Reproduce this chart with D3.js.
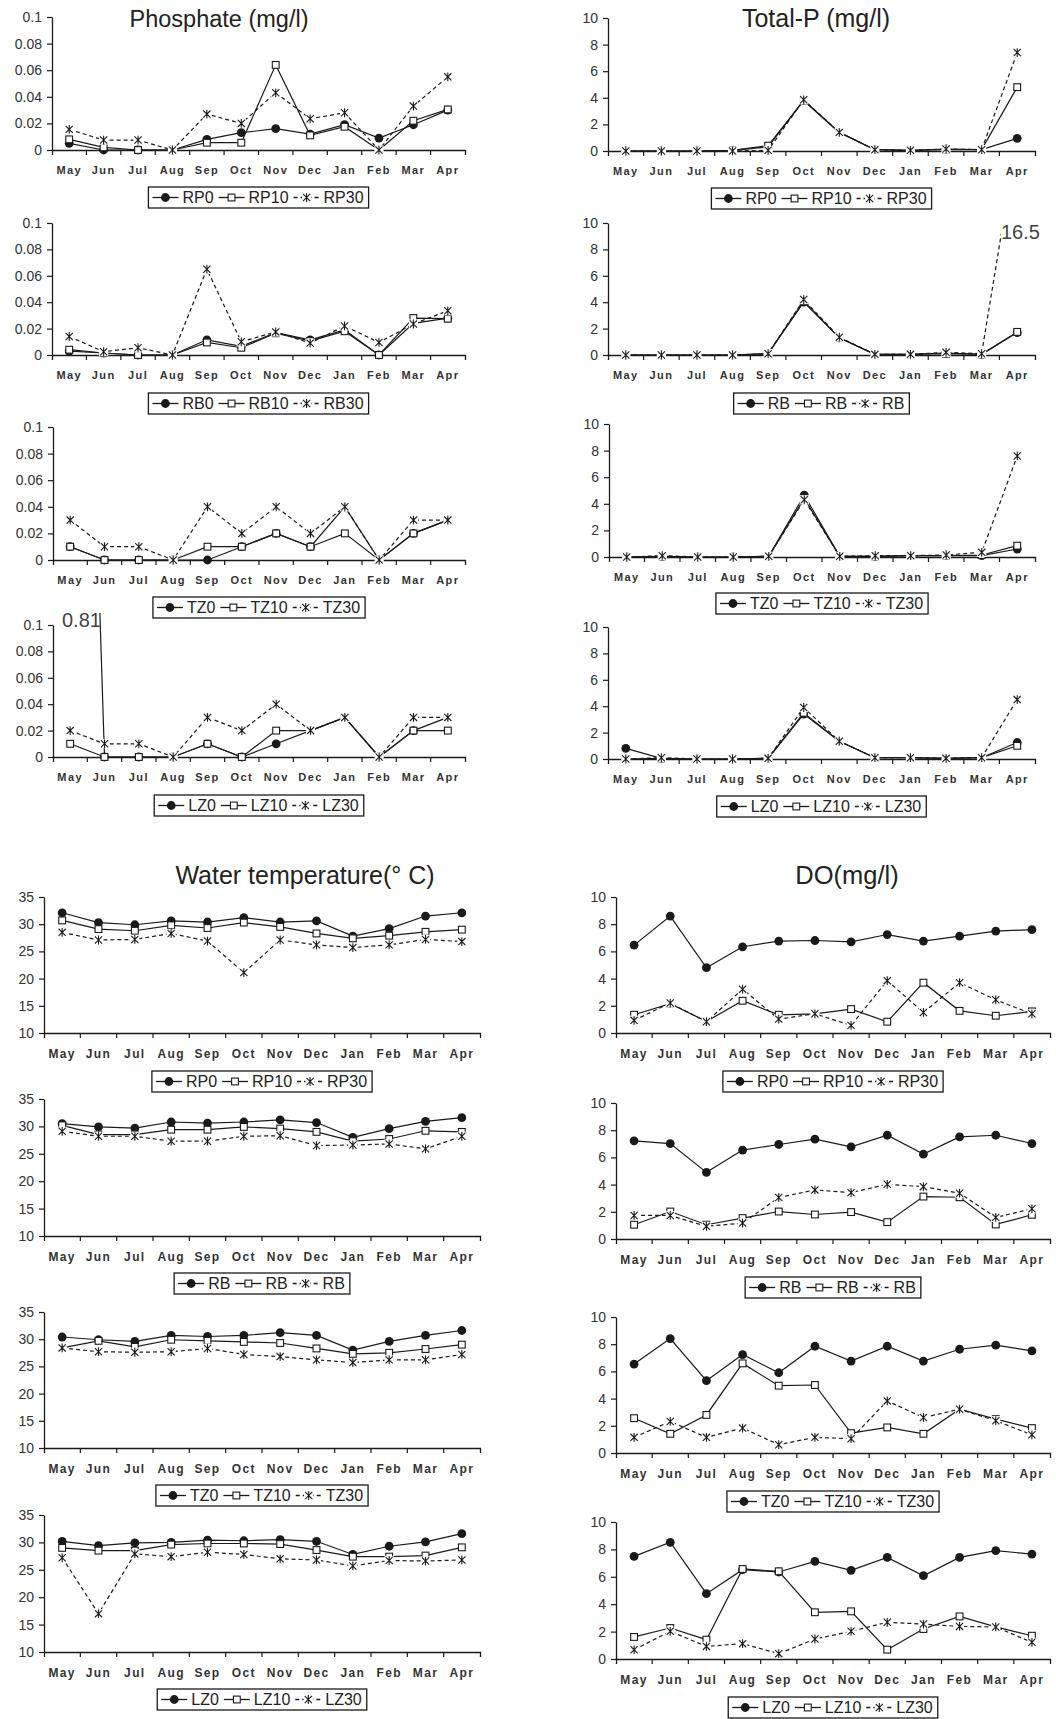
<!DOCTYPE html>
<html>
<head>
<meta charset="utf-8">
<script src="https://cdn.jsdelivr.net/npm/d3@7"></script>
<style>
  body { margin: 0; background: #fff; }
  svg { display: block; font-family: "Liberation Sans", Arial, sans-serif; }
</style>
</head>
<body>
<svg id="chart" width="1056" height="1719"></svg>
<script>
// ---- categories & ticks ----
const months = ["May","Jun","Jul","Aug","Sep","Oct","Nov","Dec","Jan","Feb","Mar","Apr"];
const phosTicks = [0, 0.02, 0.04, 0.06, 0.08, 0.1];
const tpTicks = [0, 2, 4, 6, 8, 10];
const tempTicks = [10, 15, 20, 25, 30, 35];
const doTicks = [0, 2, 4, 6, 8, 10];

// ---- Phosphate (mg/l) ----
const phosRP0  = [0.005, 0, 0, 0, 0.008, 0.013, 0.016, 0.012, 0.019, 0.009, 0.019, 0.030];
const phosRP10 = [0.008, 0.002, 0, 0, 0.0055, 0.0055, 0.064, 0.011, 0.0175, 0, 0.022, 0.0305];
const phosRP30 = [0.0155, 0.0075, 0.0075, 0, 0.027, 0.020, 0.043, 0.0235, 0.028, 0, 0.033, 0.055];
const phosRB0  = [0.003, 0.0015, 0, 0, 0.0115, 0.0065, 0.017, 0.0115, 0.019, 0, 0.024, 0.028];
const phosRB10 = [0.004, 0.0015, 0, 0, 0.0095, 0.0055, 0.0165, 0.0105, 0.018, 0, 0.028, 0.0275];
const phosRB30 = [0.014, 0.0025, 0.0055, 0, 0.065, 0.010, 0.0175, 0.009, 0.022, 0.0095, 0.0235, 0.0335];
const phosTZ0  = [0.01, 0, 0, 0, 0, 0.01, 0.02, 0.01, 0.04, 0, 0.02, 0.03];
const phosTZ10 = [0.01, 0, 0, 0, 0.01, 0.01, 0.02, 0.01, 0.02, 0, 0.02, 0.03];
const phosTZ30 = [0.03, 0.01, 0.01, 0, 0.04, 0.02, 0.04, 0.02, 0.04, 0, 0.03, 0.03];
const phosLZ0  = [0.81, 0, 0, 0, 0.01, 0, 0.01, 0.02, 0.03, 0, 0.02, 0.03];
const phosLZ10 = [0.01, 0, 0, 0, 0.01, 0, 0.02, 0.02, 0.03, 0, 0.02, 0.02];
const phosLZ30 = [0.02, 0.01, 0.01, 0, 0.03, 0.02, 0.04, 0.02, 0.03, 0, 0.03, 0.03];

// ---- Total-P (mg/l) ----
const tpRP0  = [0, 0, 0, 0.05, 0.3, 3.8, 1.4, 0.1, 0.05, 0.15, 0.1, 0.95];
const tpRP10 = [0, 0, 0, 0.05, 0.4, 3.8, 1.4, 0.1, 0.05, 0.1, 0.1, 4.8];
const tpRP30 = [0, 0, 0, 0, 0.05, 3.85, 1.4, 0.1, 0.05, 0.15, 0.1, 7.4];
const tpRB0  = [0, 0, 0, 0, 0.1, 4.0, 1.3, 0.05, 0.05, 0.15, 0.05, 1.7];
const tpRB10 = [0, 0, 0, 0, 0.1, 4.1, 1.3, 0.05, 0.05, 0.1, 0.05, 1.75];
const tpRB30 = [0, 0, 0, 0, 0.1, 4.2, 1.35, 0.05, 0.05, 0.2, 0.1, 16.5];
const tpTZ0  = [0, 0.05, 0, 0, 0.05, 4.65, 0.05, 0.05, 0.1, 0.1, 0.1, 0.6];
const tpTZ10 = [0, 0.05, 0, 0, 0.05, 4.4, 0.05, 0.05, 0.1, 0.1, 0.15, 0.85];
const tpTZ30 = [0, 0.1, 0, 0, 0.05, 4.3, 0.05, 0.1, 0.1, 0.15, 0.35, 7.6];
const tpLZ0  = [0.8, 0.05, 0, 0, 0.05, 3.4, 1.35, 0.1, 0.1, 0.05, 0.1, 1.25];
const tpLZ10 = [0, 0.05, 0, 0, 0.05, 3.5, 1.35, 0.1, 0.1, 0.05, 0.1, 1.0];
const tpLZ30 = [0, 0.1, 0, 0, 0.05, 3.9, 1.35, 0.1, 0.1, 0.05, 0.1, 4.5];

// ---- Water temperature (°C) ----
const wtRP0  = [32.1, 30.3, 29.9, 30.6, 30.4, 31.2, 30.4, 30.6, 27.8, 29.2, 31.5, 32.1];
const wtRP10 = [30.7, 29.1, 28.8, 29.8, 29.3, 30.3, 29.5, 28.3, 27.4, 27.9, 28.6, 29.0];
const wtRP30 = [28.5, 27.1, 27.2, 28.3, 26.9, 21.1, 27.1, 26.2, 25.7, 26.2, 27.2, 26.8];
const wtRB0  = [30.5, 29.9, 29.7, 30.8, 30.6, 30.8, 31.2, 30.7, 28.0, 29.6, 30.9, 31.6];
const wtRB10 = [30.2, 28.5, 28.5, 29.4, 29.4, 29.9, 29.6, 29.0, 27.3, 27.7, 29.2, 29.0];
const wtRB30 = [29.1, 28.2, 28.2, 27.3, 27.3, 28.2, 28.3, 26.5, 26.6, 26.8, 25.9, 28.2];
const wtTZ0  = [30.4, 29.9, 29.6, 30.7, 30.5, 30.7, 31.2, 30.7, 28.0, 29.6, 30.7, 31.6];
const wtTZ10 = [28.4, 29.7, 28.6, 29.9, 29.7, 29.5, 29.3, 28.3, 27.3, 27.5, 28.2, 29.0];
const wtTZ30 = [28.4, 27.7, 27.6, 27.7, 28.3, 27.2, 26.8, 26.2, 25.7, 26.2, 26.2, 27.2];
const wtLZ0  = [30.2, 29.4, 29.9, 30.0, 30.4, 30.3, 30.5, 30.2, 27.8, 29.3, 30.1, 31.6];
const wtLZ10 = [29.0, 28.5, 28.5, 29.6, 29.8, 29.8, 29.7, 28.6, 27.4, 27.4, 27.6, 29.1];
const wtLZ30 = [27.2, 17.0, 27.9, 27.4, 28.2, 27.8, 27.0, 26.8, 25.7, 26.7, 26.6, 26.8];

// ---- DO (mg/l) ----
const doRP0  = [6.46, 8.6, 4.8, 6.34, 6.76, 6.8, 6.7, 7.24, 6.76, 7.12, 7.49, 7.6];
const doRP10 = [1.34, 2.15, 0.85, 2.37, 1.34, 1.41, 1.76, 0.83, 3.7, 1.63, 1.27, 1.59];
const doRP30 = [0.93, 2.2, 0.83, 3.22, 1.02, 1.41, 0.56, 3.85, 1.51, 3.7, 2.44, 1.41];
const doRB0  = [7.22, 7.02, 4.9, 6.54, 6.95, 7.34, 6.78, 7.63, 6.24, 7.51, 7.63, 7.02];
const doRB10 = [1.05, 2.02, 1.05, 1.54, 2.02, 1.8, 1.98, 1.24, 3.12, 3.07, 1.07, 1.78];
const doRB30 = [1.73, 1.73, 0.93, 1.17, 3.05, 3.61, 3.41, 4.02, 3.85, 3.37, 1.59, 2.22];
const doTZ0  = [6.54, 8.41, 5.32, 7.24, 5.9, 7.85, 6.76, 7.85, 6.76, 7.63, 7.93, 7.51];
const doTZ10 = [2.56, 1.41, 2.8, 6.59, 4.95, 5.0, 1.46, 1.88, 1.41, 3.22, 2.49, 1.83];
const doTZ30 = [1.15, 2.32, 1.15, 1.83, 0.61, 1.15, 1.05, 3.83, 2.61, 3.22, 2.37, 1.34];
const doLZ0  = [7.49, 8.52, 4.77, 6.52, 6.35, 7.13, 6.47, 7.42, 6.08, 7.42, 7.91, 7.66];
const doLZ10 = [1.61, 2.26, 1.41, 6.57, 6.4, 3.41, 3.48, 0.68, 2.19, 3.11, 2.34, 1.7];
const doLZ30 = [0.68, 2.02, 0.92, 1.12, 0.39, 1.46, 2.02, 2.68, 2.55, 2.38, 2.34, 1.22];

// ---- legend labels ----
const legRP = ["RP0", "RP10", "RP30"];
const legRB = ["RB0", "RB10", "RB30"];
const legRBplain = ["RB", "RB", "RB"];
const legTZ = ["TZ0", "TZ10", "TZ30"];
const legLZ = ["LZ0", "LZ10", "LZ30"];

// ---- panel layout ----
const styleUpper = {tickFont: 14, monthFont: 11};
const styleLower = {tickFont: 14, monthFont: 12};
const panels = [
  {x0: 52,  x1: 465,  y0: 17,   y1: 150,  leg: 187,  ticks: phosTicks, series: [phosRP0, phosRP10, phosRP30], labels: legRP, st: styleUpper},
  {x0: 52,  x1: 465,  y0: 223,  y1: 355,  leg: 393,  ticks: phosTicks, series: [phosRB0, phosRB10, phosRB30], labels: legRB, st: styleUpper},
  {x0: 53,  x1: 465,  y0: 427,  y1: 560,  leg: 597,  ticks: phosTicks, series: [phosTZ0, phosTZ10, phosTZ30], labels: legTZ, st: styleUpper},
  {x0: 53,  x1: 465,  y0: 625,  y1: 757,  leg: 795,  ticks: phosTicks, series: [phosLZ0, phosLZ10, phosLZ30], labels: legLZ, st: styleUpper,
   over: 12, note: {text: "0.81", x: 62, y: 627}},
  {x0: 608, x1: 1035, y0: 18,   y1: 151,  leg: 188,  ticks: tpTicks, series: [tpRP0, tpRP10, tpRP30], labels: legRP, st: styleUpper},
  {x0: 608, x1: 1035, y0: 223,  y1: 355,  leg: 393,  ticks: tpTicks, series: [tpRB0, tpRB10, tpRB30], labels: legRBplain, st: styleUpper,
   note: {text: "16.5", x: 1001, y: 239, bg: true}},
  {x0: 609, x1: 1035, y0: 424,  y1: 557,  leg: 593,  ticks: tpTicks, series: [tpTZ0, tpTZ10, tpTZ30], labels: legTZ, st: styleUpper},
  {x0: 608, x1: 1035, y0: 627,  y1: 759,  leg: 796,  ticks: tpTicks, series: [tpLZ0, tpLZ10, tpLZ30], labels: legLZ, st: styleUpper},
  {x0: 44,  x1: 480,  y0: 897,  y1: 1033, leg: 1071, ticks: tempTicks, series: [wtRP0, wtRP10, wtRP30], labels: legRP, st: styleLower},
  {x0: 44,  x1: 480,  y0: 1099, y1: 1236, leg: 1273, ticks: tempTicks, series: [wtRB0, wtRB10, wtRB30], labels: legRBplain, st: styleLower},
  {x0: 44,  x1: 480,  y0: 1312, y1: 1448, leg: 1485, ticks: tempTicks, series: [wtTZ0, wtTZ10, wtTZ30], labels: legTZ, st: styleLower},
  {x0: 44,  x1: 480,  y0: 1515, y1: 1652, leg: 1689, ticks: tempTicks, series: [wtLZ0, wtLZ10, wtLZ30], labels: legLZ, st: styleLower},
  {x0: 616, x1: 1050, y0: 897,  y1: 1033, leg: 1071, ticks: doTicks, series: [doRP0, doRP10, doRP30], labels: legRP, st: styleLower},
  {x0: 616, x1: 1050, y0: 1103, y1: 1239, leg: 1277, ticks: doTicks, series: [doRB0, doRB10, doRB30], labels: legRBplain, st: styleLower},
  {x0: 616, x1: 1050, y0: 1317, y1: 1453, leg: 1491, ticks: doTicks, series: [doTZ0, doTZ10, doTZ30], labels: legTZ, st: styleLower},
  {x0: 616, x1: 1050, y0: 1522, y1: 1659, leg: 1697, ticks: doTicks, series: [doLZ0, doLZ10, doLZ30], labels: legLZ, st: styleLower}
];

const titles = [
  {text: "Phosphate (mg/l)", x: 219, y: 27, size: 23.5},
  {text: "Total-P (mg/l)", x: 816, y: 27, size: 25},
  {text: "Water temperature(\u00B0 C)", x: 305, y: 884, size: 25},
  {text: "DO(mg/l)", x: 847, y: 884, size: 25.5}
];

const INK = "#1a1a1a";
const svg = d3.select("#chart");
const defs = svg.append("defs");

// marker glyphs: filled circle, open square, asterisk on a white square ground
function drawMarker(sel, kind, cx, cy) {
  if (kind === 0) {
    sel.append("circle").attr("cx", cx).attr("cy", cy).attr("r", 4.4).attr("fill", INK);
  } else if (kind === 1) {
    sel.append("rect").attr("x", cx - 3.4).attr("y", cy - 3.4).attr("width", 6.8).attr("height", 6.8)
      .attr("fill", "#fff").attr("stroke", INK).attr("stroke-width", 1.1);
  } else {
    const s = 3.6;
    sel.append("rect").attr("x", cx - s - 1).attr("y", cy - s - 1).attr("width", 2 * s + 2).attr("height", 2 * s + 2)
      .attr("fill", "#fff");
    sel.append("path")
      .attr("d", `M${cx - s},${cy - s}L${cx + s},${cy + s}M${cx - s},${cy + s}L${cx + s},${cy - s}M${cx},${cy - s - 0.8}L${cx},${cy + s + 0.8}`)
      .attr("stroke", INK).attr("stroke-width", 1.1).attr("fill", "none");
  }
}

const dashFor = k => (k === 2 ? "4,3" : null);

panels.forEach((p, pi) => {
  const g = svg.append("g");
  const x = d3.scaleBand().domain(months).range([p.x0, p.x1]);
  const y = d3.scaleLinear().domain([p.ticks[0], p.ticks[p.ticks.length - 1]]).range([p.y1, p.y0]);

  // y axis
  const ya = g.append("g").attr("transform", `translate(${p.x0},0)`)
    .call(d3.axisLeft(y).tickValues(p.ticks).tickSizeInner(5).tickSizeOuter(0).tickPadding(5).tickFormat(d => String(d)));
  ya.select(".domain").attr("stroke", INK).attr("stroke-width", 1.3);
  ya.selectAll(".tick line").attr("stroke", INK).attr("stroke-width", 1.2);
  ya.selectAll(".tick text").attr("fill", "#333").attr("font-size", p.st.tickFont)
    .attr("font-family", "'Liberation Sans', Arial, sans-serif");

  // x axis: labels centred on bands, ticks on band boundaries
  const xa = g.append("g").attr("transform", `translate(0,${p.y1})`)
    .call(d3.axisBottom(x).tickSizeInner(0).tickSizeOuter(5).tickPadding(16));
  xa.select(".domain").attr("stroke", INK).attr("stroke-width", 1.3);
  xa.selectAll(".tick text").attr("fill", "#333").attr("font-size", p.st.monthFont).attr("font-weight", "bold")
    .attr("letter-spacing", "1.4px").attr("font-family", "'Liberation Sans', Arial, sans-serif");
  xa.selectAll(".boundary").data(months.slice(1)).join("line").attr("class", "boundary")
    .attr("x1", d => x(d)).attr("x2", d => x(d)).attr("y1", 0).attr("y2", 5)
    .attr("stroke", INK).attr("stroke-width", 1.2);

  // clip; an off-scale value may run a little past the top of the plot
  const over = p.over || 1;
  const clipId = "clip" + pi;
  defs.append("clipPath").attr("id", clipId).append("rect")
    .attr("x", p.x0 - 10).attr("y", p.y0 - over).attr("width", p.x1 - p.x0 + 20).attr("height", p.y1 - p.y0 + over + 10);

  const plot = g.append("g").attr("clip-path", `url(#${clipId})`);
  const line = d3.line().x((d, i) => x(months[i]) + x.bandwidth() / 2).y(d => y(d));

  p.series.forEach((vals, k) => {
    plot.append("path").datum(vals).attr("d", line)
      .attr("fill", "none").attr("stroke", INK).attr("stroke-width", 1.2)
      .attr("stroke-dasharray", dashFor(k));
  });
  p.series.forEach((vals, k) => {
    vals.forEach((v, i) => {
      const cy = y(v);
      if (cy < p.y0 - 6) return;
      drawMarker(plot, k, x(months[i]) + x.bandwidth() / 2, cy);
    });
  });

  // legend box, centred under the plot
  const lg = g.append("g");
  const h = 21;
  let pos = 4;
  p.labels.forEach((lab, k) => {
    lg.append("line").attr("x1", pos).attr("x2", pos + 26).attr("y1", 0).attr("y2", 0)
      .attr("stroke", INK).attr("stroke-width", 1.3).attr("stroke-dasharray", dashFor(k));
    drawMarker(lg, k, pos + 13, 0);
    pos += 30;
    const t = lg.append("text").attr("x", pos).attr("y", 0).attr("dy", "0.36em")
      .attr("font-size", 16).attr("fill", "#222").text(lab);
    pos += t.node().getComputedTextLength() + 5;
  });
  lg.insert("rect", ":first-child").attr("x", 0).attr("y", -h / 2).attr("width", pos).attr("height", h)
    .attr("fill", "#fff").attr("stroke", INK).attr("stroke-width", 1.3);
  const cx = (p.x0 + p.x1) / 2;
  lg.attr("transform", `translate(${cx - pos / 2},${p.leg + h / 2})`);

  // value note for an off-scale point
  if (p.note) {
    const nt = g.append("text").attr("x", p.note.x).attr("y", p.note.y)
      .attr("font-size", 20).attr("fill", "#444").text(p.note.text);
    if (p.note.bg) {
      const b = nt.node().getBBox();
      g.insert("rect", () => nt.node()).attr("x", b.x).attr("y", b.y + 2).attr("width", b.width).attr("height", b.height - 4)
        .attr("fill", "#fff");
    }
  }
});

titles.forEach(t => {
  svg.append("text").attr("x", t.x).attr("y", t.y).attr("text-anchor", "middle")
    .attr("font-size", t.size).attr("fill", "#222").text(t.text);
});
</script>
</body>
</html>
